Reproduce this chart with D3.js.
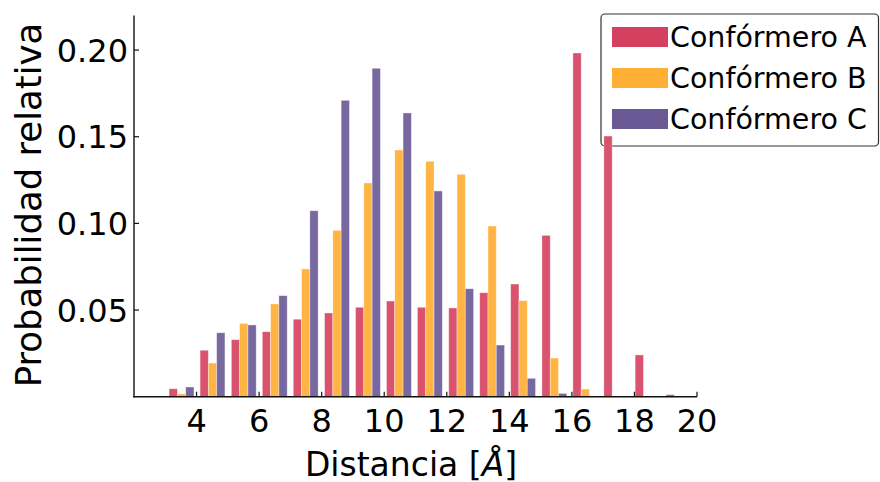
<!DOCTYPE html>
<html><head><meta charset="utf-8">
<script src="https://cdn.jsdelivr.net/npm/d3@7"></script>
<style>body{margin:0;background:#fff}svg{display:block}text{font-family:"DejaVu Sans",sans-serif;fill:#000}</style>
</head><body>
<script>
const binCenters = [3.52,4.51,5.51,6.50,7.49,8.49,9.48,10.47,11.46,12.46,13.45,14.44,15.44,16.43,17.42,18.42,19.41];
const confA = [0.0046,0.0268,0.0329,0.0375,0.0447,0.0483,0.0516,0.0552,0.0516,0.0512,0.0600,0.0650,0.0931,0.1983,0.1504,0.0241,0.0012];
const confB = [0.0016,0.0194,0.0423,0.0535,0.0737,0.0960,0.1233,0.1423,0.1358,0.1283,0.0985,0.0554,0.0223,0.0044,0.0004,0,0];
const confC = [0.0056,0.0369,0.0414,0.0583,0.1073,0.1710,0.1895,0.1637,0.1187,0.0623,0.0298,0.0106,0.0019,0,0,0,0];
const seriesNames = ["Confórmero A","Confórmero B","Confórmero C"];
const barColors = ["#d9526e","#ffb443","#77689f"];
const legendColors = ["#d4405f","#ffae36","#6a5994"];
const xTicks = [4,6,8,10,12,14,16,18,20];
const yTicks = [0.05,0.10,0.15,0.20];
const xLabel = "Distancia [";
const xLabelUnit = "Å";
const yLabel = "Probabilidad relativa";

const W=880,H=482;
const svg=d3.select("body").append("svg").attr("width",W).attr("height",H);
const x=d3.scaleLinear().domain([2,20]).range([134,697]);
const y=d3.scaleLinear().domain([0,0.22]).range([396.7,15.4]);
const bw=0.265;
const data=[confA,confB,confC];

// legend (below bars)
const lg=svg.append("g");
lg.append("rect").attr("x",601).attr("y",14).attr("width",277.5).attr("height",132).attr("rx",4)
  .attr("fill","#fff").attr("fill-opacity",0.8).attr("stroke","#333").attr("stroke-width",1.2);
seriesNames.forEach((n,i)=>{
  const cy=37+i*41;
  lg.append("rect").attr("x",612).attr("y",cy-10).attr("width",56).attr("height",20).attr("fill",legendColors[i]);
  lg.append("text").attr("x",670).attr("y",cy).attr("dy","0.36em").attr("font-size",28.5).text(n);
});

// bars
data.forEach((vals,si)=>{
  svg.append("g").selectAll("rect").data(vals).join("rect")
    .attr("x",(d,i)=>x(binCenters[i]-1.5*bw+si*bw))
    .attr("width",x(bw)-x(0))
    .attr("y",d=>y(d))
    .attr("height",d=>y(0)-y(d))
    .attr("fill",barColors[si])
    .attr("stroke","rgba(255,255,255,0.45)").attr("stroke-width",0.8);
});

// axes
const ax=svg.append("g").attr("stroke","#111").attr("stroke-width",1.4);
ax.append("line").attr("x1",x(2)).attr("x2",x(2)).attr("y1",y(0.22)).attr("y2",y(0)+0.7);
ax.append("line").attr("x1",x(2)-0.7).attr("x2",x(20)).attr("y1",y(0)).attr("y2",y(0));
const xa=svg.append("g");
xTicks.forEach(t=>{
  xa.append("line").attr("x1",x(t)).attr("x2",x(t)).attr("y1",y(0)).attr("y2",y(0)-5).attr("stroke","#111").attr("stroke-width",1.2);
  xa.append("text").attr("x",x(t)).attr("y",432).attr("text-anchor","middle").attr("font-size",32).text(t);
});
const ya=svg.append("g");
yTicks.forEach(t=>{
  ya.append("line").attr("x1",x(2)).attr("x2",x(2)+5).attr("y1",y(t)).attr("y2",y(t)).attr("stroke","#111").attr("stroke-width",1.2);
  ya.append("text").attr("x",128).attr("y",y(t)).attr("dy","0.36em").attr("text-anchor","end").attr("font-size",32).text(d3.format(".2f")(t));
});
const xl=svg.append("text").attr("x",411).attr("y",475.5).attr("text-anchor","middle").attr("font-size",33);
xl.append("tspan").text(xLabel);
xl.append("tspan").attr("font-style","italic").text(xLabelUnit);
xl.append("tspan").text("]");
svg.append("text").attr("transform","translate(41,205) rotate(-90)").attr("text-anchor","middle").attr("font-size",35.5).text(yLabel);
</script>
</body></html>
